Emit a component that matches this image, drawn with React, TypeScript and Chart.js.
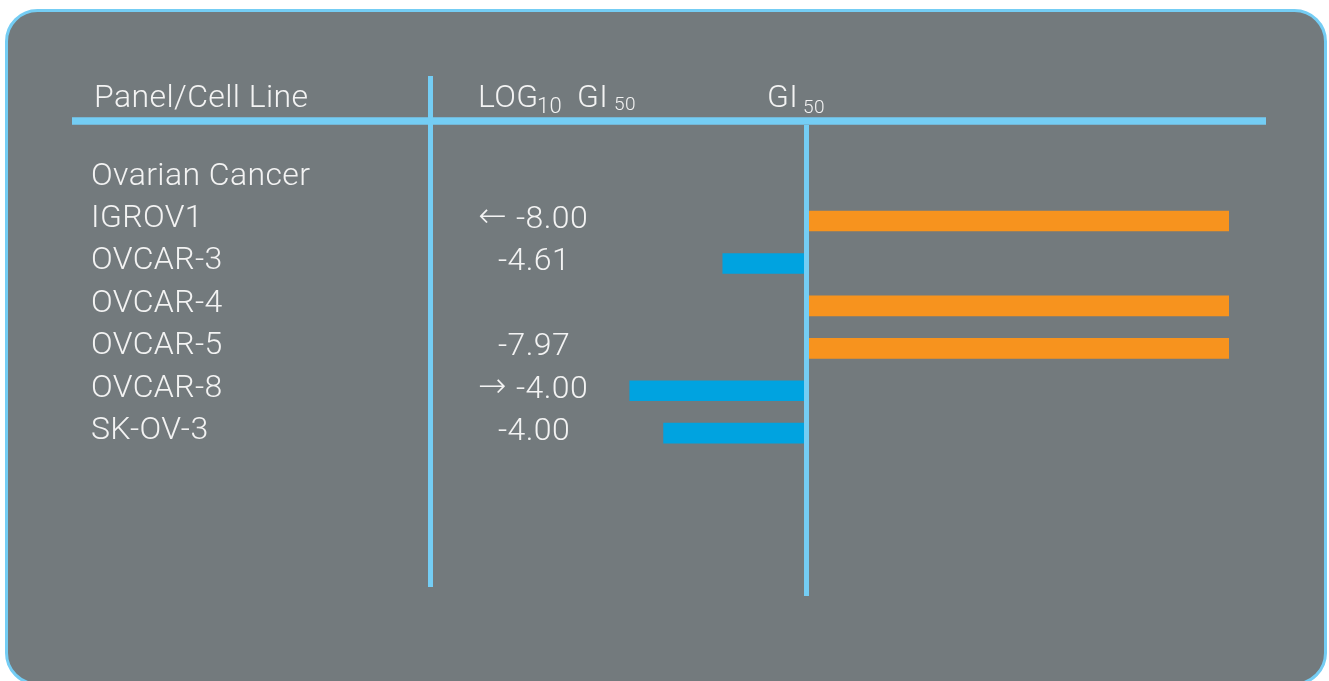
import React, { useEffect, useRef } from "react";
import { Chart, registerables } from "chart.js";

Chart.register(...registerables);

const categories = ["Ovarian Cancer", "IGROV1", "OVCAR-3", "OVCAR-4", "OVCAR-5", "OVCAR-8", "SK-OV-3"];
const barValues = [null, 3.0, -0.59, 3.0, 3.0, -1.25, -1.01];
const logGI50Values = ["", "-8.00", "-4.61", "", "-7.97", "-4.00", "-4.00"];
const logGI50Arrows = ["", "\u2190", "", "", "", "\u2192", ""];

const W = 1329;
const H = 681;
const BG = "#737a7d";
const LINE = "#74cdf4";
const TEXT = "#f3f3f3";
const ORANGE = "#f7931e";
const BLUE = "#00a3e0";
const FONT = "Roboto";

const decorPlugin = {
  id: "decor",
  beforeDraw(chart: any) {
    const ctx = chart.ctx;
    ctx.save();
    const x0 = 6.5, y0 = 10.5, x1 = 1325.5, y1 = 684, r = 31;
    ctx.beginPath();
    ctx.moveTo(x0 + r, y0);
    ctx.lineTo(x1 - r, y0);
    ctx.arcTo(x1, y0, x1, y0 + r, r);
    ctx.lineTo(x1, y1 - r);
    ctx.arcTo(x1, y1, x1 - r, y1, r);
    ctx.lineTo(x0 + r, y1);
    ctx.arcTo(x0, y1, x0, y1 - r, r);
    ctx.lineTo(x0, y0 + r);
    ctx.arcTo(x0, y0, x0 + r, y0, r);
    ctx.closePath();
    ctx.fillStyle = BG;
    ctx.fill();
    ctx.lineWidth = 3;
    ctx.strokeStyle = LINE;
    ctx.stroke();
    ctx.restore();
  },
  afterDatasetsDraw(chart: any) {
    const ctx = chart.ctx;
    const xs = chart.scales.x;
    const ys = chart.scales.y;
    const zero = xs.getPixelForValue(0);
    ctx.save();
    ctx.strokeStyle = LINE;
    ctx.lineCap = "butt";
    // header line
    ctx.lineWidth = 7.5;
    ctx.beginPath();
    ctx.moveTo(72, 121);
    ctx.lineTo(1266, 121);
    ctx.stroke();
    // first column divider
    ctx.lineWidth = 5;
    ctx.beginPath();
    ctx.moveTo(430.5, 76);
    ctx.lineTo(430.5, 587);
    ctx.stroke();
    // zero line
    ctx.beginPath();
    ctx.moveTo(zero + 0.5, 125);
    ctx.lineTo(zero + 0.5, 596);
    ctx.stroke();

    ctx.fillStyle = TEXT;
    ctx.textBaseline = "alphabetic";
    const big = `300 32px ${FONT}`;
    ctx.font = big;
    ctx.letterSpacing = "0.4px";
    ctx.textAlign = "left";
    ctx.fillText("Panel/Cell Line", 94, 107);
    // LOG10 GI50 header
    ctx.fillText("LOG", 478, 107);
    ctx.font = `300 22px ${FONT}`;
    ctx.fillText("10", 537, 112.5);
    ctx.font = big;
    ctx.fillText("GI", 577, 107);
    ctx.font = `300 19px ${FONT}`;
    ctx.fillText("50", 614, 110);
    ctx.font = big;
    ctx.fillText("GI", 767, 107);
    ctx.font = `300 19px ${FONT}`;
    ctx.fillText("50", 803, 112.5);

    categories.forEach((c, i) => {
      const y = ys.getPixelForValue(i);
      ctx.font = big;
      ctx.textAlign = "left";
      ctx.fillText(c, 91, y + 6);
      const v = logGI50Values[i];
      const a = logGI50Arrows[i];
      if (v) {
        if (a) {
          ctx.textAlign = "left";
          ctx.fillText(v, 516, y + 7);
          ctx.font = `200 34px "DejaVu Sans"`;
          ctx.textAlign = "right";
          ctx.fillText(a, 507, y + 6);
        } else {
          ctx.textAlign = "center";
          ctx.fillText(v, 534, y + 7);
        }
      }
    });
    ctx.restore();
  },
};

export default function App() {
  const ref = useRef<HTMLCanvasElement>(null);
  useEffect(() => {
    if (!ref.current) return;
    const chart = new Chart(ref.current, {
      type: "bar",
      data: {
        labels: categories,
        datasets: [
          {
            data: barValues as any,
            backgroundColor: barValues.map((v) => ((v ?? 0) >= 0 ? ORANGE : BLUE)),
            barThickness: 20,
            borderWidth: 0,
          },
        ],
      },
      options: {
        indexAxis: "y",
        animation: false,
        responsive: false,
        devicePixelRatio: 1,
        layout: { padding: { left: 453.5, right: W - 1229, top: 157.4, bottom: H - 454.4 } },
        scales: {
          x: { type: "linear", min: -2.5, max: 3, display: false },
          y: { type: "category", display: false },
        },
        plugins: { legend: { display: false }, tooltip: { enabled: false } },
      },
      plugins: [decorPlugin],
    });
    return () => chart.destroy();
  }, []);
  return (
    <div style={{ position: "fixed", left: 0, top: 0, width: W, height: H }}>
      <canvas ref={ref} width={W} height={H} style={{ width: W, height: H, display: "block" }} />
    </div>
  );
}
